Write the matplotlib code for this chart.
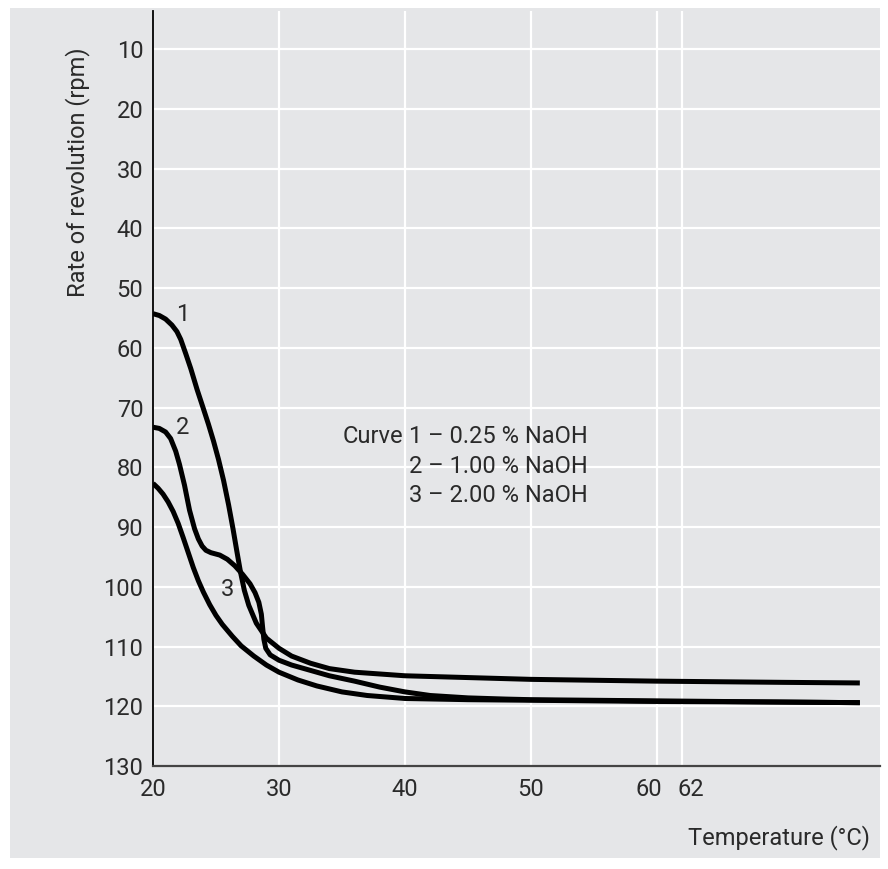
#!/usr/bin/env python3

# rate of revolution vs temperature for three NaOH concentrations

import matplotlib
matplotlib.use('Agg')
import matplotlib.pyplot as plt
from matplotlib.patches import Rectangle
from matplotlib.transforms import ScaledTranslation

plt.rcParams['font.family'] = ['Roboto', 'DejaVu Sans']
plt.rcParams['font.weight'] = 'normal'

# curve 1 - 0.25 % NaOH
t1 = [20.0, 20.5, 21.0, 21.5, 21.9, 22.2, 22.6, 23.0, 23.5, 24.0, 24.4, 24.8,
      25.2, 25.6, 26.0, 26.35, 26.65, 26.95, 27.25, 27.6, 28.2, 29.0,
      30.0, 31.0, 32.5, 34.0, 36.0, 40.0, 45.0, 50.0, 60.0, 70.0, 76.1]
r1 = [54.3, 54.6, 55.2, 56.2, 57.3, 58.6, 61.0, 63.5, 67.0, 70.2, 72.8, 75.6,
      78.7, 82.2, 86.3, 90.3, 94.0, 97.6, 100.6, 103.1, 106.1, 108.6,
      110.3, 111.6, 112.8, 113.7, 114.3, 114.9, 115.2, 115.5, 115.8, 116.0, 116.1]

# curve 2 - 1.00 % NaOH
t2 = [20.0, 20.5, 21.0, 21.4, 21.8, 22.1, 22.5, 22.9, 23.3, 23.6, 23.9, 24.2,
      24.6, 25.3, 25.9, 26.5, 27.1, 27.7, 28.1, 28.4, 28.6, 28.7, 28.8, 28.95,
      29.3, 30.0, 31.0, 32.5, 34.0, 36.0, 38.0, 40.0, 42.0, 45.0, 48.0, 50.0,
      60.0, 70.0, 76.1]
r2 = [73.3, 73.5, 74.1, 75.2, 77.3, 79.5, 83.0, 87.2, 90.3, 92.0, 93.2, 93.9,
      94.3, 94.7, 95.4, 96.5, 97.9, 99.5, 101.0, 102.6, 104.6, 106.8, 108.8,
      110.3, 111.4, 112.3, 113.1, 114.0, 114.9, 115.8, 116.8, 117.6, 118.2,
      118.6, 118.8, 118.9, 119.1, 119.3, 119.4]

# curve 3 - 2.00 % NaOH
t3 = [20.0, 20.4, 20.8, 21.2, 21.6, 22.0, 22.4, 22.8, 23.2, 23.6, 24.0, 24.5,
      25.0, 25.5, 26.3, 27.0, 28.0, 29.0, 30.0, 31.5, 33.0, 35.0, 37.0, 40.0,
      45.0, 50.0, 60.0, 70.0, 76.1]
r3 = [82.7, 83.5, 84.5, 85.8, 87.4, 89.4, 91.8, 94.3, 96.8, 99.0, 100.9, 103.0,
      104.8, 106.3, 108.3, 109.9, 111.6, 113.1, 114.3, 115.6, 116.6, 117.6,
      118.2, 118.7, 118.9, 119.0, 119.2, 119.3, 119.4]

xticks = [20, 30, 40, 50, 60, 62]
yticks = [10, 20, 30, 40, 50, 60, 70, 80, 90, 100, 110, 120, 130]
legend_lines = ['1 \u2013 0.25 % NaOH', '2 \u2013 1.00 % NaOH', '3 \u2013 2.00 % NaOH']

bg = '#e5e6e8'
txt = '#2a2a2a'
fs = 17

fig = plt.figure(figsize=(8.88, 8.69), dpi=100)
fig.patches.append(Rectangle((10 / 888, 11 / 869), 870 / 888, 850 / 869,
                             transform=fig.transFigure, facecolor=bg,
                             edgecolor='none', zorder=-5))

ax = fig.add_axes([153 / 888, 103 / 869, 727 / 888, 755 / 869])
ax.set_facecolor(bg)

ax.set_xlim(20, 77.7)
ax.set_ylim(130, 3.64)
ax.set_xticks(xticks)
ax.set_yticks(yticks)
ax.tick_params(length=0, labelsize=fs, colors=txt)
ax.tick_params(axis='y', pad=7)
ax.tick_params(axis='x', pad=9)
ax.grid(True, color='white', linewidth=1.6)
ax.set_axisbelow(True)

# 60 and 62 sit close together, push the labels apart a little
xl = ax.get_xticklabels()
xl[4].set_transform(xl[4].get_transform() + ScaledTranslation(-0.08, 0, fig.dpi_scale_trans))
xl[5].set_transform(xl[5].get_transform() + ScaledTranslation(0.09, 0, fig.dpi_scale_trans))

for s in ['top', 'right']:
    ax.spines[s].set_visible(False)
ax.spines['left'].set_color('black')
ax.spines['left'].set_linewidth(1.3)
ax.spines['bottom'].set_color('#444444')
ax.spines['bottom'].set_linewidth(1.6)

for t, r in [(t1, r1), (t2, r2), (t3, r3)]:
    ax.plot(t, r, color='black', linewidth=3.6, solid_capstyle='butt',
            solid_joinstyle='round', zorder=3)

ax.text(21.8, 54.4, '1', fontsize=fs, color=txt, ha='left', va='center')
ax.text(21.8, 73.3, '2', fontsize=fs, color=txt, ha='left', va='center')
ax.text(25.4, 100.4, '3', fontsize=fs, color=txt, ha='left', va='center')

ax.text(39.85, 74.8, 'Curve', fontsize=fs, color=txt, ha='right', va='center')
for i, line in enumerate(legend_lines):
    ax.text(40.35, 74.8 + 5.0 * i, line, fontsize=fs, color=txt,
            ha='left', va='center')

fig.text(870 / 888, 1 - 838 / 869, 'Temperature (\u00b0C)', fontsize=fs,
         color=txt, ha='right', va='center')
fig.text(78 / 888, 1 - 172 / 869, 'Rate of revolution (rpm)', fontsize=fs,
         color=txt, ha='center', va='center', rotation=90)

fig.savefig('out.png', dpi=100)
